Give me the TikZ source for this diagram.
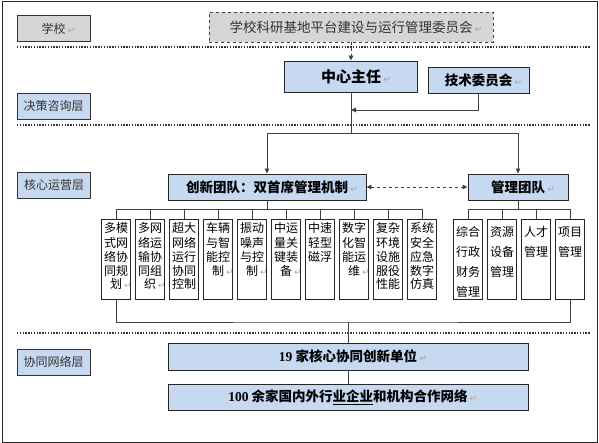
\documentclass[tikz,border=0pt]{standalone}
\usepackage{fontspec}
\setmainfont{Liberation Serif}
\newfontfamily\cjk{Noto Sans CJK SC}
\newfontfamily\symf{DejaVu Sans}
\usepackage{xcolor}
\definecolor{colBlue}{HTML}{C6D9F1}
\colorlet{colGray}{gray!32}
\colorlet{colLine}{black!75}
\usepackage{tikz}
\usetikzlibrary{arrows.meta, positioning}
\newcommand{\ret}{\rlap{\,\textcolor{gray!70}{\symf\mdseries\fontsize{9}{9}\selectfont ↵}}}
\newcommand{\cell}[2][13.7pt]{\parbox[c][74pt][t]{27pt}{\centering\fontsize{12}{#1}\selectfont\strut #2}}

\begin{document}
\begin{tikzpicture}[
				x=1pt, y=-1pt,
				every node/.style={font=\cjk},
				layerbox/.style={draw=black!80, line width=.9pt, fill=colBlue, minimum width=73pt,
				      minimum height=26pt, inner sep=1pt, text=black!80,
				      font=\cjk\fontsize{12}{14}\selectfont},
				headbox/.style={draw=black!85, line width=.9pt, fill=colBlue, minimum height=26pt,
				      inner sep=1pt, font=\cjk\bfseries\fontsize{13.5}{16}\selectfont},
				unitbox/.style={draw=black!85, line width=.8pt, anchor=north, inner xsep=1pt,
				      inner ysep=3pt},
				link/.style={line width=.9pt, colLine},
				layersep/.style={line width=1.6pt, dash pattern=on 1.4pt off 1.4pt, black!80},
				>={Triangle[length=5pt, width=4.5pt]}
			]
				\useasboundingbox (0,0) rectangle (599,443);
				\draw[line width=1pt, black!85] (2,1.5) rectangle (597,442);
				\draw[layersep] (17,47) -- (590,47);
				\draw[layersep] (17,125) -- (590,125);
				\draw[layersep] (17,333) -- (590,333);
				% layer labels
				\node[layerbox, fill=colGray] (school) at (53.5,28.5) {学校\ret};
				\node[layerbox] (decide) at (53.5,106) {决策咨询层};
				\node[layerbox] (core) at (54,185) {核心运营层};
				\node[layerbox] (network) at (53.5,362) {协同网络层};
				\node[draw=black!75, dashed, line width=.9pt, fill=colGray,
				      minimum width=284pt, minimum height=30pt, text=black!80,
				      font=\cjk\fontsize{13.5}{16}\selectfont]
				     (board) at (351,27) {学校科研基地平台建设与运行管理委员会\ret};
				\node[headbox, minimum width=133pt, minimum height=31pt,
				      font=\cjk\bfseries\fontsize{15}{18}\selectfont]
				     (director) at (351,76.5) {中心主任\ret};
				\node[headbox, minimum width=101pt] (techcom) at (478.5,80) {技术委员会\ret};
				\node[headbox, minimum width=198pt] (innov) at (267,187) {创新团队：双首席管理机制\ret};
				\node[headbox, minimum width=100pt] (mgmt) at (518,187) {管理团队\ret};
				\node[headbox, minimum width=360pt, minimum height=27pt]
				     (units) at (348,356.5) {{\rmfamily 19} 家核心协同创新单位\ret};
				\node[headbox, minimum width=360pt]
				     (partners) at (348,397) {{\rmfamily 100} 余家国内外行\underline{业企业}和机构合作网络\ret};
				% innovation team
				\node[unitbox] (t1) at (116,219) {\cell{多模\\式网\\络协\\同规\\划\ret}};
				\node[unitbox] (t2) at (150,219) {\cell{多网\\络运\\输协\\同组\\织\ret}};
				\node[unitbox] (t3) at (184,219) {\cell{超大\\网络\\运行\\协同\\控制}};
				\node[unitbox] (t4) at (218,219) {\cell{车辆\\与智\\能控\\制\ret}};
				\node[unitbox] (t5) at (252,219) {\cell{振动\\噪声\\与控\\制\ret}};
				\node[unitbox] (t6) at (286,219) {\cell{中运\\量关\\键装\\备\ret}};
				\node[unitbox] (t7) at (320,219) {\cell{中速\\轻型\\磁浮}};
				\node[unitbox] (t8) at (354,219) {\cell{数字\\化智\\能运\\维\ret}};
				\node[unitbox] (t9) at (388,219) {\cell{复杂\\环境\\设施\\服役\\性能}};
				\node[unitbox] (t10) at (422,219) {\cell{系统\\安全\\应急\\数字\\仿真}};
				% management team
				\node[unitbox] (m1) at (468,219) {\cell[20pt]{综合\\行政\\财务\\管理}};
				\node[unitbox] (m2) at (502,219) {\cell[20pt]{资源\\设备\\管理}};
				\node[unitbox] (m3) at (536,219) {\cell[20pt]{人才\\管理}};
				\node[unitbox] (m4) at (570,219) {\cell[20pt]{项目\\管理}};
				\coordinate (join) at (351,110);
				\coordinate (split) at (351,133);
				\coordinate (busL) at (267,209);
				\coordinate (busR) at (518,209);
				\coordinate (busB) at (348,322);
				\draw[link, dashed, ->] (board) -- (director);
				\draw[link] (director) -- (split);
				\draw[link, ->] (techcom) |- (join);
				\draw[link, ->] (split) -| (innov);
				\draw[link, ->] (split) -| (mgmt);
				\draw[link, dashed, <->] (innov) -- (mgmt);
				\foreach \i in {1,...,10} \draw[link] (innov) -- (busL) -| (t\i);
				\foreach \i in {1,...,4} \draw[link] (mgmt) -- (busR) -| (m\i);
				\draw[link] (t1) |- (busB) -| (m4);
				\draw[link] (busB) -- (units);
				\draw[link] (units) -- (partners);
			\end{tikzpicture}
\end{document}
